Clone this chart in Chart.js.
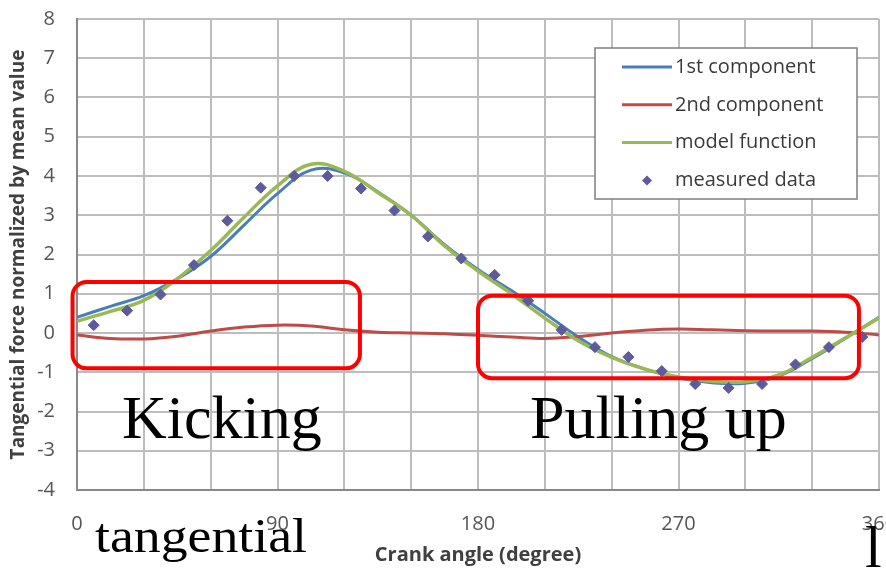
<!DOCTYPE html>
<html>
<head>
<meta charset="utf-8">
<script src="https://cdn.jsdelivr.net/npm/chart.js@4.4.0/dist/chart.umd.min.js"></script>
<style>
  html, body { margin: 0; padding: 0; background: #fff; }
</style>
</head>
<body>
<canvas id="chartForce" width="886" height="571"></canvas>
<script>
// Courbes (tous les 15 degrés)
let angles = [0, 15, 30, 45, 60, 75, 90, 105, 120, 135, 150, 165, 180, 195, 210, 225, 240, 255, 270, 285, 300, 315, 330, 345, 360];
let firstComponent = [0.4, 0.68, 0.95, 1.38, 1.95, 2.75, 3.55, 4.15, 4.08, 3.6, 3.0, 2.25, 1.62, 1.08, 0.5, -0.1, -0.6, -0.92, -1.15, -1.27, -1.28, -1.1, -0.65, -0.13, 0.4];
let secondComponent = [-0.05, -0.14, -0.15, -0.08, 0.05, 0.15, 0.2, 0.18, 0.08, 0.02, 0, -0.02, -0.06, -0.1, -0.14, -0.09, 0, 0.07, 0.1, 0.08, 0.06, 0.05, 0.05, 0.02, -0.05];
let modelFunction = [0.3, 0.55, 0.83, 1.38, 2.1, 2.95, 3.75, 4.3, 4.12, 3.58, 3.0, 2.22, 1.58, 1.0, 0.38, -0.2, -0.62, -0.92, -1.12, -1.23, -1.24, -1.07, -0.62, -0.12, 0.38];

// Points mesurés
let measuredAngles = [7.5, 22.5, 37.5, 52.5, 67.5, 82.5, 97.5, 112.5, 127.5, 142.5, 157.5, 172.5, 187.5, 202.5, 217.5, 232.5, 247.5, 262.5, 277.5, 292.5, 307.5, 322.5, 337.5, 352.5];
let measuredData = [0.2, 0.57, 0.98, 1.73, 2.86, 3.7, 4.0, 4.0, 3.68, 3.12, 2.46, 1.9, 1.48, 0.82, 0.08, -0.36, -0.61, -0.97, -1.3, -1.4, -1.3, -0.8, -0.36, -0.1];

let xTickLabels = [0, 90, 180, 270, 360];

const toPoints = (xs, ys) => xs.map((x, i) => ({ x: x, y: ys[i] }));

// Cadres et textes ajoutés sur la figure
const boxes = [
    { x0: -2, x1: 127, y0: 1.3, y1: -0.9 },
    { x0: 180, x1: 351, y0: 0.95, y1: -1.15 }
];

const annotations = {
    id: 'annotations',
    afterDatasetsDraw(chart) {
        const ctx = chart.ctx;
        const xs = chart.scales.x, ys = chart.scales.y;
        ctx.save();
        ctx.strokeStyle = '#ff0000';
        ctx.lineWidth = 4;
        boxes.forEach(b => {
            const left = xs.getPixelForValue(b.x0);
            const top = ys.getPixelForValue(b.y0);
            const w = xs.getPixelForValue(b.x1) - left;
            const h = ys.getPixelForValue(b.y1) - top;
            ctx.beginPath();
            ctx.roundRect(left, top, w, h, 14);
            ctx.stroke();
        });
        ctx.fillStyle = '#000';
        ctx.textBaseline = 'alphabetic';
        ctx.font = '62px "Liberation Serif"';
        ctx.fillText('Kicking', 122, 438);
        ctx.fillText('Pulling up', 530, 438);
        ctx.save();
        ctx.translate(95, 552);
        ctx.scale(1.12, 1);
        ctx.font = '48px "Liberation Serif"';
        ctx.fillText('tangential', 0, 0);
        ctx.restore();
        ctx.font = '60px "Liberation Serif"';
        ctx.fillText('l', 865, 567);
        ctx.restore();
    }
};

// Légende dessinée dans la zone du graphique
const boxLegend = {
    id: 'boxLegend',
    afterDraw(chart) {
        const ctx = chart.ctx;
        ctx.save();
        ctx.fillStyle = '#fff';
        ctx.fillRect(595, 48, 262, 151);
        ctx.strokeStyle = '#7f7f7f';
        ctx.lineWidth = 1.5;
        ctx.strokeRect(595, 48, 262, 151);
        ctx.font = '20px "Open Sans"';
        ctx.textBaseline = 'middle';
        chart.data.datasets.forEach((ds, i) => {
            const y = 67 + i * 37.8;
            if (ds.showLine === false) {
                ctx.fillStyle = ds.pointBackgroundColor;
                ctx.beginPath();
                ctx.moveTo(647, y - 5);
                ctx.lineTo(652, y);
                ctx.lineTo(647, y + 5);
                ctx.lineTo(642, y);
                ctx.closePath();
                ctx.fill();
            } else {
                ctx.strokeStyle = ds.borderColor;
                ctx.lineWidth = 3;
                ctx.beginPath();
                ctx.moveTo(622, y);
                ctx.lineTo(672, y);
                ctx.stroke();
            }
            ctx.fillStyle = '#3a3a3a';
            ctx.fillText(ds.label, 675, y);
        });
        ctx.restore();
    }
};

let ctxForce = document.querySelector('#chartForce').getContext('2d');
let chartForce = new Chart(ctxForce, {
    type: 'line',
    data: {
        datasets: [
            {
                label: '1st component',
                data: toPoints(angles, firstComponent),
                borderColor: '#4a7ebb',
                borderWidth: 3,
                pointRadius: 0,
                tension: 0.4,
                order: 4
            },
            {
                label: '2nd component',
                data: toPoints(angles, secondComponent),
                borderColor: '#be4b48',
                borderWidth: 3,
                pointRadius: 0,
                tension: 0.4,
                order: 3
            },
            {
                label: 'model function',
                data: toPoints(angles, modelFunction),
                borderColor: '#98b954',
                borderWidth: 3.5,
                pointRadius: 0,
                tension: 0.4,
                order: 2
            },
            {
                label: 'measured data',
                data: toPoints(measuredAngles, measuredData),
                showLine: false,
                pointStyle: 'rectRot',
                pointRadius: 5.5,
                pointBackgroundColor: '#5d5a9e',
                pointBorderColor: '#5d5a9e',
                order: 1
            }
        ]
    },
    options: {
        responsive: false,
        animation: false,
        layout: { padding: { top: 19, right: 7, bottom: 0, left: 0 } },
        plugins: {
            legend: { display: false },
            tooltip: { enabled: false }
        },
        scales: {
            x: {
                type: 'linear',
                min: 0,
                max: 360,
                ticks: {
                    stepSize: 30,
                    padding: 22,
                    color: '#555',
                    font: { family: 'Open Sans', size: 20 },
                    maxRotation: 0,
                    autoSkip: false,
                    callback: v => xTickLabels.includes(v) ? String(v) : ''
                },
                grid: { color: '#bdbdbd', lineWidth: 2, drawTicks: false },
                border: { color: '#888', width: 2 },
                title: {
                    display: true,
                    text: 'Crank angle (degree)',
                    color: '#404040',
                    font: { family: 'Open Sans', size: 20, weight: 'bold' },
                    padding: { top: 0, bottom: 4 }
                },
                afterFit(scale) {
                    scale.height = 81;
                    scale.paddingLeft = 0;
                    scale.paddingRight = 0;
                }
            },
            y: {
                min: -4,
                max: 8,
                ticks: {
                    stepSize: 1,
                    padding: 22,
                    color: '#555',
                    font: { family: 'Open Sans', size: 20 }
                },
                grid: { color: '#bdbdbd', lineWidth: 2, drawTicks: false },
                border: { color: '#888', width: 2 },
                title: {
                    display: true,
                    text: 'Tangential force normalized by mean value',
                    color: '#404040',
                    font: { family: 'Open Sans', size: 19, weight: 'bold' },
                    padding: { top: 7, bottom: 0 }
                },
                afterFit(scale) {
                    scale.width = 77;
                    scale.paddingTop = 0;
                    scale.paddingBottom = 0;
                }
            }
        }
    },
    plugins: [annotations, boxLegend]
});
</script>
</body>
</html>
